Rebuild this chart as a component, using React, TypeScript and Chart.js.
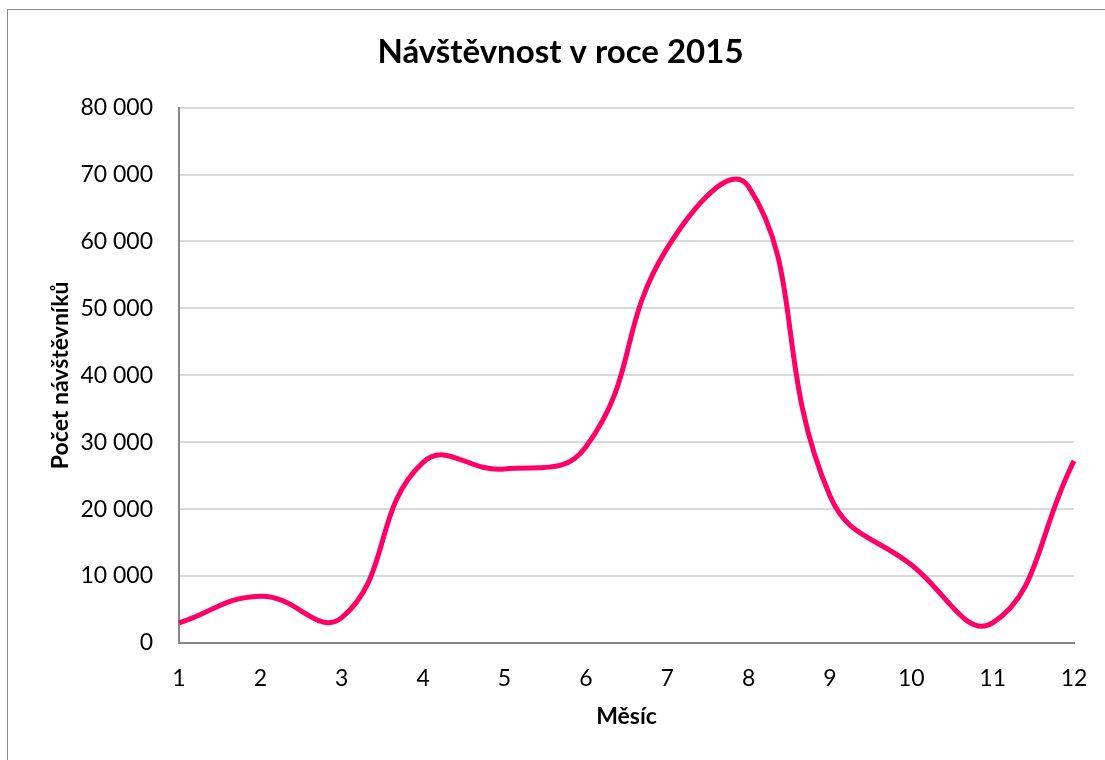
import React, { useEffect, useRef } from "react";
import { Chart, registerables } from "chart.js";

Chart.register(...registerables);

const months = ["1", "2", "3", "4", "5", "6", "7", "8", "9", "10", "11", "12"];
const visitors = [3000, 7000, 3800, 27000, 26000, 29300, 59000, 68200, 22000, 11700, 3000, 27200];
const chartTitle = "Návštěvnost v roce 2015";
const xTitle = "Měsíc";
const yTitle = "Počet návštěvníků";

const FONT = "Lato";

function fmt(v: number): string {
  return String(Math.round(v)).replace(/\B(?=(\d{3})+(?!\d))/g, " ");
}

export default function App() {
  const ref = useRef<HTMLCanvasElement | null>(null);
  useEffect(() => {
    if (!ref.current) return;
    const chart = new Chart(ref.current, {
      type: "line",
      data: {
        labels: months,
        datasets: [
          {
            data: visitors,
            borderColor: "#FF0066",
            backgroundColor: "#FF0066",
            borderWidth: 5,
            pointRadius: 0,
            tension: 0.45,
            fill: false,
          },
        ],
      },
      options: {
        animation: false,
        responsive: false,
        layout: { padding: { left: 47, right: 31, top: 0, bottom: 30 } },
        plugins: {
          legend: { display: false },
          tooltip: { enabled: false },
          title: {
            display: true,
            text: chartTitle,
            color: "#000",
            font: { family: FONT, size: 33, weight: "bold" },
            padding: { top: 33, bottom: 35 },
          },
        },
        scales: {
          x: {
            offset: false,
            grid: {
              display: true,
              drawOnChartArea: false,
              drawTicks: true,
              tickLength: 22,
              tickColor: "rgba(0,0,0,0)",
              color: "rgba(0,0,0,0)",
            },
            border: { display: true, color: "#868686", width: 2 },
            ticks: { color: "#000", font: { family: FONT, size: 23 }, padding: 0, maxRotation: 0 },
            title: {
              display: true,
              text: xTitle,
              color: "#000",
              font: { family: FONT, size: 23, weight: "bold" },
              padding: 0,
            },
            afterFit: (s: any) => {
              s.height = 87;
            },
          },
          y: {
            min: 0,
            max: 80000,
            ticks: {
              stepSize: 10000,
              color: "#000",
              font: { family: FONT, size: 23 },
              padding: 26,
              callback: (v: any) => fmt(Number(v)),
            },
            grid: {
              drawTicks: false,
              color: (c: any) => (c.tick && c.tick.value === 0 ? "#868686" : "#d9d9d9"),
              lineWidth: 2,
            },
            border: { display: true, color: "#868686", width: 2 },
            title: {
              display: true,
              text: yTitle,
              color: "#000",
              font: { family: FONT, size: 23, weight: "bold" },
              padding: 0,
            },
            afterFit: (s: any) => {
              s.width = 132;
            },
          },
        },
      },
    });
    return () => chart.destroy();
  }, []);
  return (
    <div style={{ position: "absolute", left: 0, top: 0, width: 1105, height: 760, background: "#fff", overflow: "hidden" }}>
      <div
        style={{
          position: "absolute",
          left: 7,
          top: 9,
          width: 1110,
          height: 770,
          borderLeft: "1.5px solid #8c8c8c",
          borderTop: "1.5px solid #8c8c8c",
        }}
      />
      <canvas ref={ref} width={1105} height={760} style={{ position: "absolute", left: 0, top: 0 }} />
    </div>
  );
}
